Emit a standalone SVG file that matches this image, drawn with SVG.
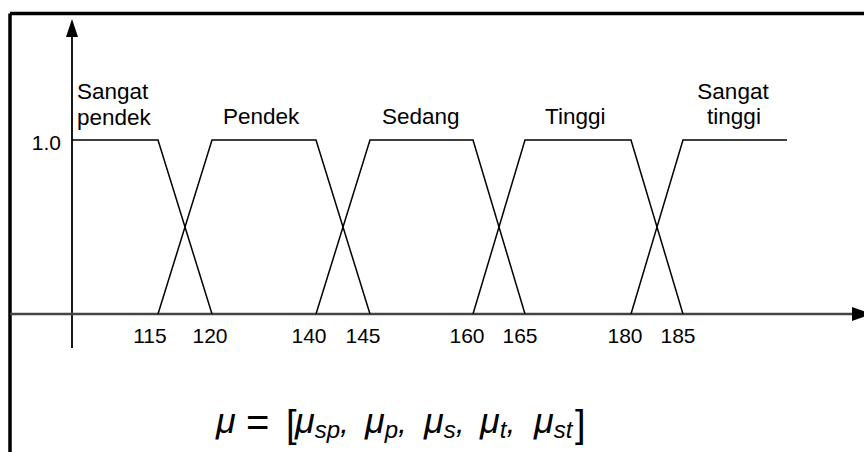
<svg xmlns="http://www.w3.org/2000/svg" width="864" height="452" viewBox="0 0 864 452">
<style>
.lbl{font-family:"Liberation Sans",Arial,sans-serif;font-size:22.5px;fill:#000}
.num{font-family:"Liberation Sans",Arial,sans-serif;font-size:21px;fill:#000;text-anchor:middle}
.mf{fill:none;stroke:#000;stroke-width:1.5}
.frm{font-family:"Liberation Sans",Arial,sans-serif;fill:#000}
.mu{font-size:36px;font-style:italic}
.sub{font-size:24px;font-style:italic}
.cm{font-size:32px;font-style:italic}
</style>
<rect width="864" height="452" fill="#fff"/>
<g id="frame">
<path d="M10,13.5 H864 M10,13.5 V452" fill="none" stroke="#000" stroke-width="3.5"/>
</g>
<g id="axes">
<line x1="72" y1="34" x2="72" y2="348" stroke="#000" stroke-width="1.8"/>
<polygon points="72,19 66,37 78,37" fill="#000"/>
<line x1="10" y1="314" x2="855" y2="314" stroke="#444" stroke-width="2.5"/>
<polygon points="852,307 872,314 852,321" fill="#000"/>
<text class="lbl" x="61" y="150" text-anchor="end" style="font-size:21px">1.0</text>
</g>
<g id="connectors">
<path class="mf" d="M72,140 H158 L212,314"/>
<path class="mf" d="M158,314 L212,140 H316 L370,314"/>
<path class="mf" d="M316,314 L370,140 H473 L525,314"/>
<path class="mf" d="M473,314 L525,140 H631 L683,314"/>
<path class="mf" d="M631,314 L683,140 H787"/>
</g>
<g id="sangat-pendek"><text class="lbl" x="77" y="99">Sangat</text><text class="lbl" x="77" y="125">pendek</text></g>
<g id="pendek"><text class="lbl" x="223" y="124">Pendek</text></g>
<g id="sedang"><text class="lbl" x="382" y="124">Sedang</text></g>
<g id="tinggi"><text class="lbl" x="545" y="124">Tinggi</text></g>
<g id="sangat-tinggi"><text class="lbl" x="733" y="99" text-anchor="middle">Sangat</text><text class="lbl" x="734" y="124" text-anchor="middle">tinggi</text></g>
<g id="ticks">
<text class="num" x="150" y="343">115</text>
<text class="num" x="210" y="343">120</text>
<text class="num" x="309" y="343">140</text>
<text class="num" x="363" y="343">145</text>
<text class="num" x="467" y="343">160</text>
<text class="num" x="520" y="343">165</text>
<text class="num" x="625" y="343">180</text>
<text class="num" x="678" y="343">185</text>
</g>
<g id="formula" class="frm">
<text x="216" y="433" class="mu">μ</text>
<text x="246" y="436" style="font-size:40px">=</text>
<text x="286" y="437" style="font-size:38px">[</text>
<text x="295" y="433" class="mu">μ<tspan dy="5" class="sub">sp</tspan><tspan dy="-5" class="cm">,</tspan></text>
<text x="365" y="433" class="mu">μ<tspan dy="5" class="sub">p</tspan><tspan dy="-5" class="cm">,</tspan></text>
<text x="424" y="433" class="mu">μ<tspan dy="5" class="sub">s</tspan><tspan dy="-5" class="cm">,</tspan></text>
<text x="480" y="433" class="mu">μ<tspan dy="5" class="sub">t</tspan><tspan dy="-5" class="cm">,</tspan></text>
<text x="534" y="433" class="mu">μ<tspan dy="5" class="sub">st</tspan></text>
<text x="575" y="437" style="font-size:38px">]</text>
</g>
</svg>
